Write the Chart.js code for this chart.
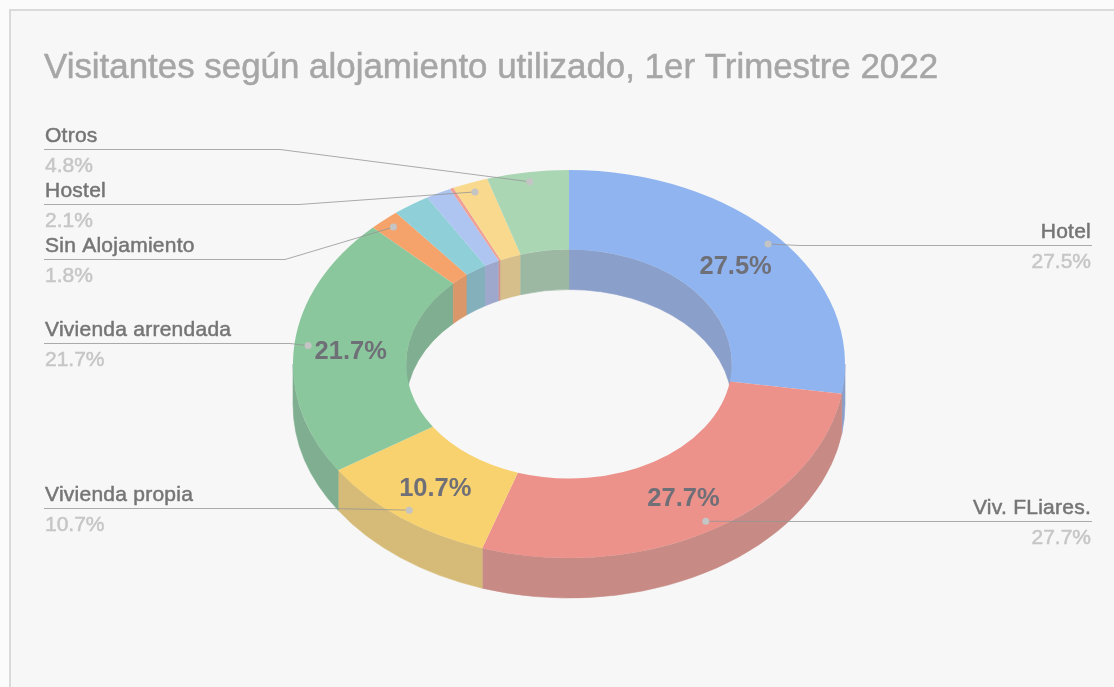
<!DOCTYPE html>
<html lang="es">
<head>
<meta charset="utf-8">
<title>Visitantes según alojamiento</title>
<script src="https://cdn.jsdelivr.net/npm/chart.js@4"></script>
<style>
  html, body { margin: 0; padding: 0; background: #fbfbfb; overflow: hidden; }
  #grafico { position: absolute; left: 0; top: 0; filter: blur(0.5px); }
</style>
</head>
<body>
<canvas id="grafico" width="1114" height="687"></canvas>
<script>
// Titulo y datos
const titulo = 'Visitantes según alojamiento utilizado, 1er Trimestre 2022';
const categorias = ['Hotel', 'Viv. FLiares.', 'Vivienda propia', 'Vivienda arrendada', 'Sin Alojamiento', '', '', '', 'Hostel', 'Otros'];
const valores = [27.5, 27.7, 10.7, 21.7, 1.8, 2.2, 1.5, 0.2, 2.1, 4.8];

const colores = ['#8fb4ef', '#ec928b', '#f8d26f', '#8bc79c', '#f5a36b', '#8ecfd8', '#adc5f0', '#ef9f96', '#f8d98e', '#abd6b4'];
const coloresPared = ['#8a9fca', '#c78a85', '#d6bb78', '#7fae90', '#d9976a', '#84b0bc', '#9ea8cd', '#d0938d', '#d6bf8a', '#9cb8a3'];

// Donde va cada rotulo externo: indice de categoria, lado, y de la linea
const rotulos = [
  { i: 9, lado: 'izq', y: 149, codo: 280 },
  { i: 8, lado: 'izq', y: 204, codo: 299 },
  { i: 4, lado: 'izq', y: 259, codo: 285 },
  { i: 3, lado: 'izq', y: 343, codo: 290 },
  { i: 2, lado: 'izq', y: 508, codo: 330 },
  { i: 0, lado: 'der', y: 245, codo: 800 },
  { i: 1, lado: 'der', y: 521, codo: 760 }
];

const aplaste = 0.703;   // el anillo se ve inclinado
const profundidad = 40;
const fuente = '"Liberation Sans", Arial, sans-serif';

function inclinar(ctx, arc) {
  ctx.translate(arc.x, arc.y);
  ctx.scale(1, aplaste);
  ctx.translate(-arc.x, -arc.y);
}

// punto del anillo ya proyectado a la pantalla
function puntoEn(arc, radio) {
  const medio = (arc.startAngle + arc.endAngle) / 2;
  return {
    x: arc.x + Math.cos(medio) * radio,
    y: arc.y + Math.sin(medio) * radio * aplaste
  };
}

// una franja de pared entre dos angulos, solo si cae dentro del tramo visible
function pared(ctx, arc, radio, desde, hasta, color) {
  const a0 = Math.max(arc.startAngle, desde);
  const a1 = Math.min(arc.endAngle, hasta);
  if (a1 <= a0) return;
  const d = profundidad / aplaste;
  ctx.beginPath();
  ctx.arc(arc.x, arc.y, radio, a0, a1);
  ctx.arc(arc.x, arc.y + d, radio, a1, a0, true);
  ctx.closePath();
  ctx.fillStyle = color;
  ctx.strokeStyle = color;
  ctx.lineWidth = 0.7;
  ctx.fill();
  ctx.stroke();
}

// texto un poco mas grueso, como en la imagen
function escribir(ctx, texto, x, y, grosor) {
  ctx.strokeStyle = ctx.fillStyle;
  ctx.lineWidth = grosor;
  ctx.strokeText(texto, x, y);
  ctx.fillText(texto, x, y);
}

const anillo3d = {
  id: 'anillo3d',
  beforeDraw(chart) {
    const ctx = chart.ctx;
    ctx.save();
    ctx.fillStyle = '#fbfbfb';
    ctx.fillRect(0, 0, chart.width, chart.height);
    ctx.fillStyle = '#f7f7f7';
    ctx.strokeStyle = '#dadada';
    ctx.lineWidth = 2;
    ctx.fillRect(10, 10, chart.width, chart.height);
    ctx.strokeRect(10, 10, chart.width, chart.height);
    ctx.restore();
  },
  beforeDatasetsDraw(chart) {
    const ctx = chart.ctx;
    const arcos = chart.getDatasetMeta(0).data;
    ctx.save();
    inclinar(ctx, arcos[0]);
    const pi = Math.PI;
    arcos.forEach((arc, i) => {
      // pared interior: se ve la mitad de atras
      pared(ctx, arc, arc.innerRadius, -pi / 2, 0, coloresPared[i]);
      pared(ctx, arc, arc.innerRadius, pi, 1.5 * pi, coloresPared[i]);
      // pared exterior: se ve la mitad de adelante
      pared(ctx, arc, arc.outerRadius, 0, pi, coloresPared[i]);
    });
  },
  afterDatasetsDraw(chart) {
    const ctx = chart.ctx;
    ctx.restore();
    const arcos = chart.getDatasetMeta(0).data;

    ctx.textBaseline = 'alphabetic';
    ctx.textAlign = 'left';
    ctx.font = '34.9px ' + fuente;
    ctx.fillStyle = '#a6a6a6';
    escribir(ctx, titulo, 44, 78, 0.5);

    // lineas y rotulos externos
    rotulos.forEach(r => {
      const arc = arcos[r.i];
      const p = puntoEn(arc, arc.outerRadius * 0.95);
      const izq = r.lado === 'izq';
      const borde = izq ? 44 : 1092;
      const texto = izq ? 45 : 1091;

      ctx.strokeStyle = 'rgba(150,150,150,0.8)';
      ctx.lineWidth = 1;
      ctx.beginPath();
      ctx.moveTo(borde, r.y + 0.5);
      ctx.lineTo(r.codo, r.y + 0.5);
      ctx.lineTo(p.x, p.y);
      ctx.stroke();

      ctx.fillStyle = '#c4c4c4';
      ctx.beginPath();
      ctx.arc(p.x, p.y, 3.5, 0, Math.PI * 2);
      ctx.fill();

      ctx.textAlign = izq ? 'left' : 'right';
      ctx.font = '21px ' + fuente;
      ctx.fillStyle = '#757575';
      ctx.letterSpacing = '0.25px';
      escribir(ctx, categorias[r.i], texto, r.y - 7, 0.5);
      ctx.letterSpacing = '0px';
      ctx.fillStyle = '#c6c6c6';
      escribir(ctx, valores[r.i].toFixed(1) + '%', texto, r.y + 23, 0.5);
    });

    // porcentajes sobre las porciones grandes
    ctx.textAlign = 'center';
    ctx.font = 'bold 25.5px ' + fuente;
    ctx.fillStyle = '#6f6f78';
    arcos.forEach((arc, i) => {
      if (valores[i] < 10) return;
      const p = puntoEn(arc, (arc.innerRadius + arc.outerRadius) / 2);
      ctx.fillText(valores[i].toFixed(1) + '%', p.x, p.y + 10);
    });
  }
};

new Chart(document.getElementById('grafico'), {
  type: 'doughnut',
  plugins: [anillo3d],
  data: {
    labels: categorias,
    datasets: [{
      data: valores,
      backgroundColor: colores,
      borderWidth: 0,
      clip: false
    }]
  },
  options: {
    responsive: false,
    animation: false,
    cutout: '59%',
    layout: { padding: { left: 293, right: 269, top: 88, bottom: 47 } },
    plugins: {
      legend: { display: false },
      tooltip: { enabled: false }
    }
  }
});
</script>
</body>
</html>
